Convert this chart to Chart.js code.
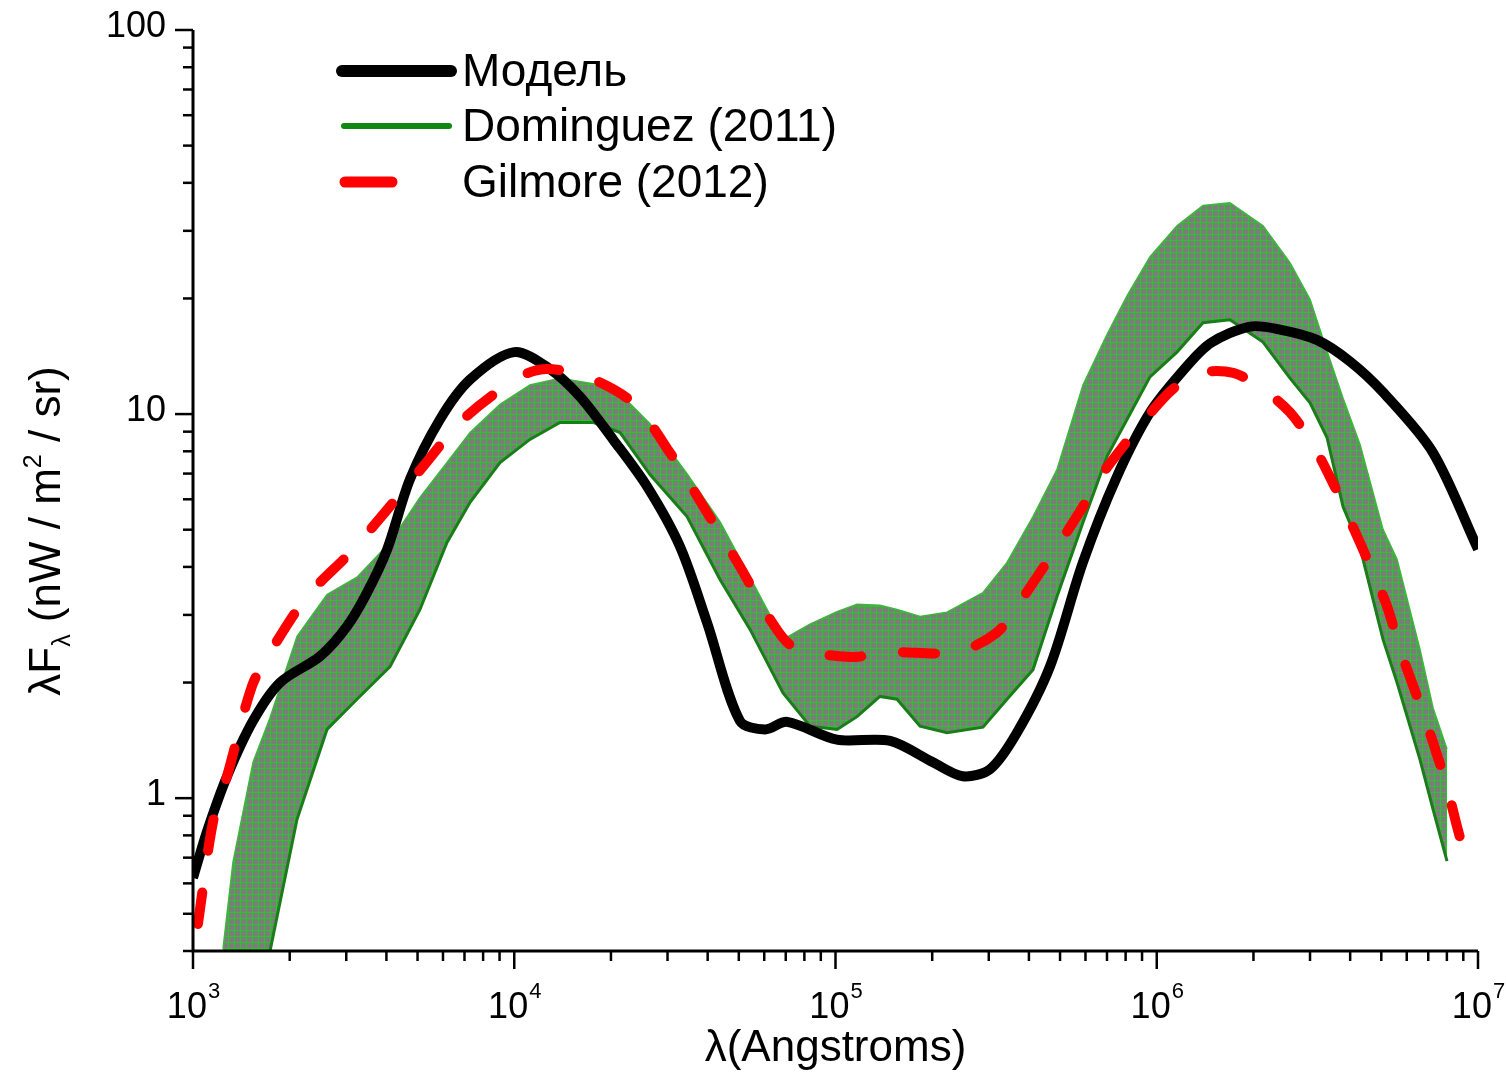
<!DOCTYPE html>
<html>
<head>
<meta charset="utf-8">
<style>
  html, body { margin: 0; padding: 0; background: #fff; }
  #wrap { width: 1506px; height: 1074px; }
</style>
<script src="https://cdn.jsdelivr.net/npm/chart.js@4.4.1/dist/chart.umd.min.js"></script>
</head>
<body>
<div id="wrap"><canvas id="sedChart" width="1506" height="1074"></canvas></div>
<script>
// EBL spectrum: model vs. Dominguez (2011) band and Gilmore (2012)

// Model (black line)
const modelX = [1000, 1106, 1276, 1538, 1866, 2484, 3013, 3482, 4020, 4734, 5870, 7285, 10000, 12920, 16020,
    20300, 25900, 32800, 39800, 50400, 60400, 70700, 101000, 148000, 201000, 249000, 303000, 367000, 465000,
    589000, 752000, 953000, 1.21e6, 1.47e6, 1.95e6, 2.42e6, 3.15e6, 4.0e6, 5.06e6, 7.24e6, 1e7];
const modelY = [0.62, 0.82, 1.14, 1.59, 2.0, 2.34, 2.8, 3.43, 4.44, 6.76, 9.68, 12.3, 14.5, 13.1, 11.1,
    8.59, 6.48, 4.52, 2.87, 1.59, 1.51, 1.58, 1.42, 1.41, 1.24, 1.14, 1.19, 1.48, 2.2,
    4.11, 6.88, 10.1, 13.0, 15.3, 16.9, 16.6, 15.6, 13.7, 11.4, 7.94, 4.45];

// Gilmore (2012) (red dashed)
const gilmoreX = [1036, 1154, 1276, 1527, 1739, 2265, 3150, 5200, 6920, 10400, 12650, 16840, 23400, 30500,
    39800, 50400, 62600, 73800, 111000, 145000, 239000, 318000, 375000, 433000, 500000, 589000, 666000,
    785000, 933000, 1.12e6, 1.36e6, 1.73e6, 2.14e6, 2.6e6, 3.06e6, 3.54e6, 3.8e6, 4.29e6, 4.71e6,
    5.21e6, 5.72e6, 6.46e6, 7.24e6, 8.0e6, 8.6e6, 9.44e6];
const gilmoreY = [0.47, 0.867, 1.14, 1.96, 2.4, 3.35, 4.44, 7.3, 9.68, 12.5, 13.1, 12.5, 10.7, 7.94,
    5.55, 4.01, 2.92, 2.48, 2.33, 2.4, 2.4, 2.7, 3.24, 3.87, 4.63, 5.74, 6.84,
    8.23, 9.84, 11.6, 12.8, 12.8, 11.6, 10.1, 8.33, 6.6, 5.8, 4.63, 3.87,
    3.16, 2.44, 1.84, 1.4, 1.07, 0.845, 0.634];

// Dominguez (2011) band: upper and lower edges
const domX = [1240, 1332, 1538, 1737, 2108, 2613, 3239, 4105, 5088, 6176, 7285, 9030, 11190, 13880, 17590,
    21350, 26460, 34500, 43700, 54200, 68640, 83300, 101100, 116700, 137500, 155400, 183300, 222400,
    287800, 341900, 411900, 489200, 589300, 700000, 808000, 952800, 1.156e6, 1.393e6, 1.69e6, 2.142e6,
    2.598e6, 3.0e6, 3.388e6, 3.801e6, 4.293e6, 5.062e6, 5.597e6, 6.598e6, 7.243e6, 8.008e6];
const domUpper = [0.405, 0.682, 1.24, 1.62, 2.64, 3.39, 3.76, 4.63, 6.07, 7.48, 8.95, 10.6, 11.9, 12.4, 12.0,
    11.3, 9.44, 7.0, 5.25, 3.76, 2.59, 2.84, 3.06, 3.2, 3.18, 3.1, 2.97, 3.05,
    3.43, 4.11, 5.41, 7.17, 11.9, 16.1, 20.3, 25.7, 30.9, 34.9, 35.5, 30.9,
    24.8, 19.9, 14.6, 11.0, 8.33, 5.01, 4.19, 2.44, 1.72, 1.34];
const domLower = [0.1, 0.14, 0.25, 0.4, 0.881, 1.51, 1.81, 2.2, 3.1, 4.63, 5.89, 7.48, 8.59, 9.51, 9.51,
    8.95, 6.96, 5.41, 3.71, 2.75, 1.88, 1.54, 1.51, 1.63, 1.84, 1.81, 1.54, 1.48,
    1.53, 1.81, 2.16, 3.35, 5.22, 7.75, 9.68, 12.5, 14.5, 17.3, 17.6, 15.4,
    12.4, 10.7, 8.69, 5.74, 4.5, 2.59, 2.0, 1.26, 0.936, 0.686];

// Axis ticks and legend text
const xTickValues = [1e3, 1e4, 1e5, 1e6, 1e7];
const xTickExponents = ['3', '4', '5', '6', '7'];
const yTickValues = [1, 10, 100];
const yTickLabels = ['1', '10', '100'];
const legendLabels = ['Модель', 'Dominguez (2011)', 'Gilmore (2012)'];

const FONT = '"Liberation Sans", Arial, sans-serif';

function toPoints(xs, ys) {
    return xs.map((x, i) => ({ x: x, y: ys[i] }));
}

function makeGridPattern(ctx) {
    const c = document.createElement('canvas');
    c.width = 6;
    c.height = 6;
    const g = c.getContext('2d');
    g.fillStyle = '#7c7c7c';
    g.fillRect(0, 0, 6, 6);
    g.fillStyle = '#26c826';
    g.fillRect(0, 0, 6, 1);
    g.fillRect(0, 0, 1, 6);
    return ctx.createPattern(c, 'repeat');
}

// draws axes, ticks, labels and legend (Origin style)
const decorPlugin = {
    id: 'decor',
    afterDraw(chart) {
        const ctx = chart.ctx;
        const xs = chart.scales.x;
        const ys = chart.scales.y;
        const area = chart.chartArea;
        ctx.save();
        ctx.strokeStyle = '#000';
        ctx.fillStyle = '#000';
        ctx.lineWidth = 3;
        ctx.lineCap = 'butt';

        // axis lines
        ctx.beginPath();
        ctx.moveTo(area.left, area.top);
        ctx.lineTo(area.left, area.bottom);
        ctx.lineTo(area.right, area.bottom);
        ctx.stroke();

        // y ticks
        ctx.lineWidth = 2.5;
        for (let d = -1; d <= 1; d++) {
            for (let m = 1; m <= 9; m++) {
                const v = m * Math.pow(10, d);
                if (v < ys.min - 1e-9 || v > ys.max + 1e-9) continue;
                const py = ys.getPixelForValue(v);
                const len = m === 1 ? 18 : 10;
                ctx.beginPath();
                ctx.moveTo(area.left - len, py);
                ctx.lineTo(area.left, py);
                ctx.stroke();
            }
        }
        const yTop = ys.getPixelForValue(100);
        ctx.beginPath();
        ctx.moveTo(area.left - 18, yTop);
        ctx.lineTo(area.left, yTop);
        ctx.stroke();

        // x ticks
        for (let d = 3; d <= 7; d++) {
            for (let m = 1; m <= 9; m++) {
                const v = m * Math.pow(10, d);
                if (v > xs.max * 1.0001) continue;
                const px = xs.getPixelForValue(v);
                const len = m === 1 ? 18 : 10;
                ctx.beginPath();
                ctx.moveTo(px, area.bottom);
                ctx.lineTo(px, area.bottom + len);
                ctx.stroke();
            }
        }

        // y tick labels
        ctx.font = '36px ' + FONT;
        ctx.textAlign = 'right';
        ctx.textBaseline = 'middle';
        yTickValues.forEach((v, i) => {
            ctx.fillText(yTickLabels[i], 166, ys.getPixelForValue(v) - 3);
        });

        // x tick labels 10^n
        ctx.textAlign = 'left';
        ctx.textBaseline = 'alphabetic';
        xTickValues.forEach((v, i) => {
            const px = xs.getPixelForValue(v);
            ctx.font = '36px ' + FONT;
            const wBase = ctx.measureText('10').width;
            ctx.font = '22px ' + FONT;
            const wExp = ctx.measureText(xTickExponents[i]).width;
            const x0 = px - (wBase + wExp) / 2;
            ctx.font = '36px ' + FONT;
            ctx.fillText('10', x0, 1018);
            ctx.font = '22px ' + FONT;
            ctx.fillText(xTickExponents[i], x0 + wBase + 1, 998);
        });

        // x axis title
        ctx.font = '44px ' + FONT;
        ctx.textAlign = 'center';
        ctx.textBaseline = 'middle';
        ctx.fillText('λ(Angstroms)', (area.left + area.right) / 2, 1049);

        // y axis title with sub/superscript
        const parts = [
            { t: 'λF', size: 44, dy: 0 },
            { t: 'λ', size: 25, dy: 10 },
            { t: ' (nW / m', size: 44, dy: 0 },
            { t: '2', size: 25, dy: -19 },
            { t: ' / sr)', size: 44, dy: 0 }
        ];
        let total = 0;
        parts.forEach(p => {
            ctx.font = p.size + 'px ' + FONT;
            p.w = ctx.measureText(p.t).width;
            total += p.w;
        });
        ctx.translate(60, 531);
        ctx.rotate(-Math.PI / 2);
        ctx.textAlign = 'left';
        ctx.textBaseline = 'alphabetic';
        let cx = -total / 2;
        parts.forEach(p => {
            ctx.font = p.size + 'px ' + FONT;
            ctx.fillText(p.t, cx, p.dy);
            cx += p.w;
        });
        ctx.restore();

        // legend
        ctx.save();
        ctx.lineCap = 'round';
        const rows = [
            { y: 71, x1: 342, x2: 451, color: '#000', w: 12 },
            { y: 126, x1: 344, x2: 449, color: '#118811', w: 6 },
            { y: 182, x1: 345, x2: 392, color: '#ff0000', w: 11 }
        ];
        rows.forEach((r, i) => {
            ctx.strokeStyle = r.color;
            ctx.lineWidth = r.w;
            ctx.beginPath();
            ctx.moveTo(r.x1, r.y);
            ctx.lineTo(r.x2, r.y);
            ctx.stroke();
            ctx.fillStyle = '#000';
            ctx.font = '46px ' + FONT;
            ctx.textAlign = 'left';
            ctx.textBaseline = 'middle';
            ctx.fillText(legendLabels[i], 462, r.y + 2);
        });
        ctx.restore();
    }
};

const canvas = document.getElementById('sedChart');
const ctx = canvas.getContext('2d');
const gridFill = makeGridPattern(ctx);

new Chart(ctx, {
    type: 'line',
    data: {
        datasets: [
            {
                label: 'Gilmore (2012)',
                data: toPoints(gilmoreX, gilmoreY),
                borderColor: '#ff0000',
                borderWidth: 10,
                borderDash: [32, 42],
                borderCapStyle: 'round',
                tension: 0.3,
                pointRadius: 0,
                fill: false,
                order: 0
            },
            {
                label: 'Модель',
                data: toPoints(modelX, modelY),
                borderColor: '#000000',
                borderWidth: 10,
                borderCapStyle: 'butt',
                tension: 0.3,
                pointRadius: 0,
                fill: false,
                order: 1
            },
            {
                label: 'Dominguez upper',
                data: toPoints(domX, domUpper),
                borderColor: '#3cb83c',
                borderWidth: 1.5,
                backgroundColor: gridFill,
                tension: 0,
                pointRadius: 0,
                fill: '+1',
                order: 3
            },
            {
                label: 'Dominguez (2011)',
                data: toPoints(domX, domLower),
                borderColor: '#1a7d1a',
                borderWidth: 3,
                tension: 0,
                pointRadius: 0,
                fill: false,
                order: 2
            }
        ]
    },
    options: {
        responsive: false,
        animation: false,
        layout: {
            padding: { left: 193, right: 28, top: 30, bottom: 123 }
        },
        scales: {
            x: { type: 'logarithmic', min: 1000, max: 1e7, display: false },
            y: { type: 'logarithmic', min: 0.4, max: 100, display: false }
        },
        plugins: {
            legend: { display: false },
            tooltip: { enabled: false }
        }
    },
    plugins: [decorPlugin]
});
</script>
</body>
</html>
